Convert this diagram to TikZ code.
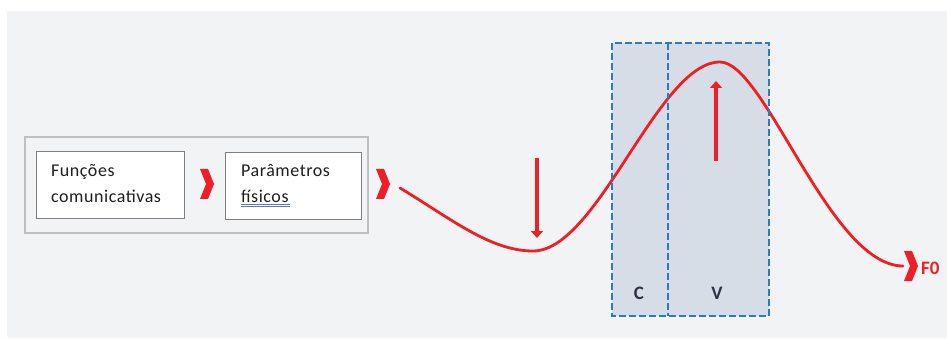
\documentclass[tikz,border=0pt]{standalone}
\usepackage{fontspec}
\setmainfont{Carlito}
\newfontfamily\boxfont[LetterSpace=3]{Carlito}
\usetikzlibrary{arrows.meta}
\definecolor{pagebg}{HTML}{F2F3F5}
\definecolor{curvered}{HTML}{EE2027}
\definecolor{boxline}{HTML}{7F7F7F}
\definecolor{frameline}{HTML}{BFBFBF}
\definecolor{zoneblue}{HTML}{2F78C8}
\definecolor{zonefill}{HTML}{D6DDE6}
\definecolor{labeldark}{HTML}{2B3445}
\definecolor{spellblue}{HTML}{5577D6}
\tikzset{
  stagebox/.style={draw=boxline, line width=1pt, fill=white, anchor=north west,
    minimum height=67pt, inner sep=0pt},
  stagetext/.style={align=left, font=\boxfont\fontsize{18}{25}\selectfont, text=black!88,
    anchor=base west, inner sep=0pt},
  zone/.style={draw=zoneblue, dash pattern=on 7pt off 3pt, line width=1.2pt},
  zonelabel/.style={font=\fontsize{19}{19}\selectfont\bfseries, text=labeldark},
  pitcharrow/.style={draw=curvered, line width=4pt,
    -{Triangle[width=12pt,length=7pt]}},
  chev/.style={fill=curvered, draw=none}
}
% red chevron with its notch at the given point
\newcommand{\chevronat}[2]{%
  \fill[chev] (#1-5,#2-15) -- (#1+3,#2-15) -- (#1+9,#2) -- (#1+3,#2+15)
    -- (#1-5,#2+15) -- (#1+1,#2) -- cycle;}
\begin{document}
\begin{tikzpicture}[x=1pt,y=-1pt]
  \useasboundingbox (0,0) rectangle (947,339);
  \fill[pagebg] (7,11) rectangle (947,338);

  % left frame with the two stages
  \draw[frameline, line width=1.2pt, fill=pagebg] (25,137) rectangle (368,233);
  \node[stagebox, minimum width=148pt] (funcbox) at (36,151) {};
  \node[stagebox, minimum width=136pt] (parbox) at (225,152) {};
  % anchor is the baseline of the second line
  \node[stagetext] (functext) at (51,202) {Funções\\comunicativas};
  \node[stagetext] (partext) at (241,202) {Parâmetros\\físicos};
  \draw[spellblue, line width=0.7pt] (241,204) -- (290,204);
  \draw[spellblue, line width=0.7pt] (241,206.5) -- (290,206.5);

  \chevronat{205}{184}
  \chevronat{381}{184}

  % consonant / vowel zone
  \fill[zonefill] (612,43) rectangle (769,316);

  % F0 contour
  \coordinate (c0) at (400,188);
  \coordinate (cmin) at (533,251);
  \coordinate (cmax) at (720,62);
  \coordinate (cend) at (903,266);
  \draw[curvered, line width=2.8pt, line cap=round]
    (c0) .. controls (450,218) and (490,251) .. (cmin)
         .. controls (598,251) and (658,62) .. (cmax)
         .. controls (765,62) and (830,266) .. (cend);
  \chevronat{909}{266}
  \node[font=\fontsize{19}{19}\selectfont\bfseries, text=curvered, anchor=west,
    inner sep=0pt] (f0) at (921,268) {F0};

  \draw[zone] (612,43) rectangle (769,316);
  \draw[zone] (668,43) -- (668,316);
  \node[zonelabel] (clab) at (639,293) {C};
  \node[zonelabel] (vlab) at (717,293) {V};

  % pitch movement arrows
  \coordinate (downs) at (537,158);
  \coordinate (downe) at (537,238);
  \coordinate (ups) at (716,161);
  \coordinate (upe) at (716,81);
  \draw[pitcharrow] (downs) -- (downe);
  \draw[pitcharrow] (ups) -- (upe);
\end{tikzpicture}
\end{document}
